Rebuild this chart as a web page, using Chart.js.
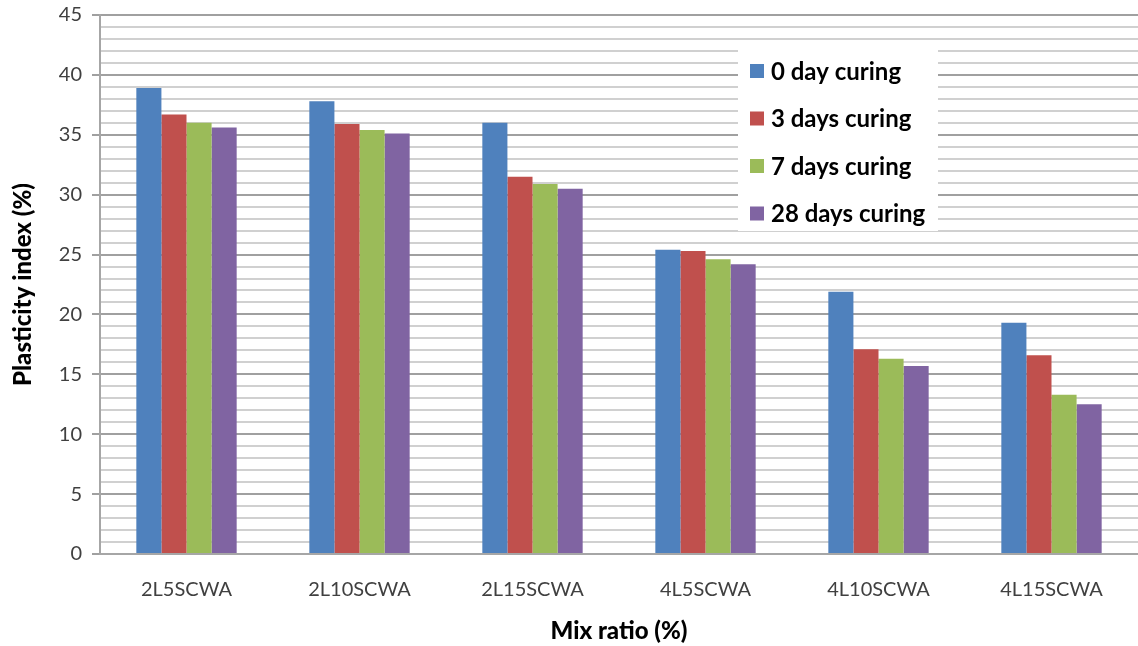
<!DOCTYPE html>
<html>
<head>
<meta charset="utf-8">
<script src="https://cdn.jsdelivr.net/npm/chart.js@4.4.0/dist/chart.umd.min.js"></script>
<style>
  html, body { margin: 0; padding: 0; background: #fff; }
  #wrap { width: 1138px; height: 646px; position: relative; }
</style>
</head>
<body>
<div id="wrap"><canvas id="chart"></canvas></div>
<script>
var categories = ['2L5SCWA', '2L10SCWA', '2L15SCWA', '4L5SCWA', '4L10SCWA', '4L15SCWA'];
var seriesNames = ['0 day curing', '3 days curing', '7 days curing', '28 days curing'];
var day0 = [38.9, 37.8, 36.0, 25.4, 21.9, 19.3];
var day3 = [36.7, 35.9, 31.5, 25.3, 17.1, 16.6];
var day7 = [36.0, 35.4, 30.9, 24.6, 16.3, 13.3];
var day28 = [35.6, 35.1, 30.5, 24.2, 15.7, 12.5];
var colors = ['#4f81bd', '#c0504d', '#9bbb59', '#8064a2'];

var fontFamily = 'Lato, sans-serif';

// legend box drawn over the plot, like the original
var boxLegend = {
    id: 'boxLegend',
    afterDatasetsDraw: function(chart) {
        var c = chart.ctx;
        c.save();
        c.fillStyle = '#fff';
        c.fillRect(738, 45, 200, 186);
        c.font = 'bold 24px ' + fontFamily;
        c.textBaseline = 'middle';
        chart.data.datasets.forEach(function(ds, i) {
            var y = 71 + i * 47.5;
            c.fillStyle = ds.backgroundColor;
            c.fillRect(750, y - 7, 14, 14);
            c.fillStyle = '#000';
            c.fillText(ds.label, 771, y + 1);
        });
        c.restore();
    }
};

var ctx = document.getElementById('chart').getContext('2d');
var chart = new Chart(ctx, {
    type: 'bar',
    data: {
        labels: categories,
        datasets: [day0, day3, day7, day28].map(function(vals, i) {
            return {
                label: seriesNames[i],
                data: vals,
                backgroundColor: colors[i],
                borderWidth: 0,
                categoryPercentage: 0.58,
                barPercentage: 1.0
            };
        })
    },
    options: {
        responsive: true,
        maintainAspectRatio: false,
        animation: false,
        layout: { padding: { top: 15, right: 0, left: 0, bottom: 0 } },
        plugins: {
            legend: { display: false },
            tooltip: { enabled: false }
        },
        scales: {
            x: {
                grid: { display: false, drawTicks: false },
                border: { color: '#a6a6a6', width: 2 },
                ticks: {
                    color: '#404040',
                    padding: 24,
                    font: { family: fontFamily, size: 20 }
                },
                title: {
                    display: true,
                    text: 'Mix ratio (%)',
                    color: '#000',
                    font: { family: fontFamily, size: 24, weight: 900 },
                    padding: { top: 10, bottom: 0 }
                },
                afterFit: function(scale) { scale.height = 92; }
            },
            y: {
                min: 0,
                max: 45,
                ticks: {
                    stepSize: 1,
                    autoSkip: false,
                    color: '#404040',
                    padding: 10,
                    font: { family: fontFamily, size: 20 },
                    callback: function(v) { return v % 5 === 0 ? v : ''; }
                },
                grid: {
                    color: function(c) { return c.tick && c.tick.value % 5 === 0 ? '#a0a0a0' : '#d0d0d0'; },
                    lineWidth: 2,
                    tickLength: 8,
                    tickColor: function(c) { return c.tick && c.tick.value % 5 === 0 ? '#a0a0a0' : 'rgba(0,0,0,0)'; }
                },
                border: { color: '#a6a6a6', width: 2 },
                title: {
                    display: true,
                    text: 'Plasticity index (%)',
                    color: '#000',
                    font: { family: fontFamily, size: 24, weight: 900 },
                    padding: { top: 9, bottom: 0 }
                },
                afterFit: function(scale) {
                    scale.width = 100;
                    scale.paddingTop = 0;
                    scale.paddingBottom = 0;
                }
            }
        }
    },
    plugins: [boxLegend]
});
</script>
</body>
</html>
